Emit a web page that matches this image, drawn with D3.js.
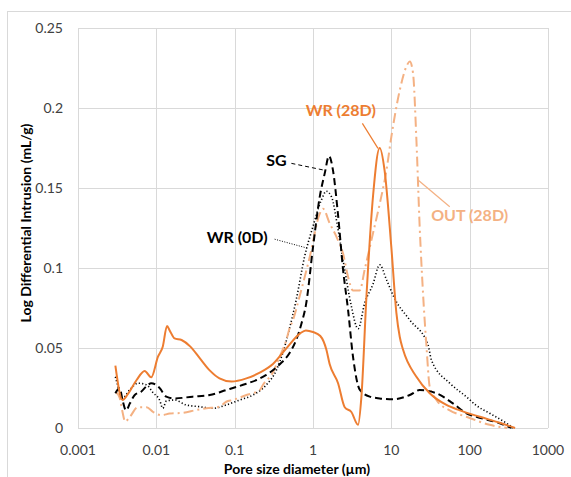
<!DOCTYPE html>
<meta charset="utf-8">
<style>
  body { margin: 0; background: #fff; }
  text { font-family: Lato, "Open Sans", sans-serif; }
</style>
<body>
<script src="https://d3js.org/d3.v7.min.js"></script>
<script>
// pore size (µm) , log differential intrusion (mL/g)
var wr28 = [[0.003,0.039],[0.0037,0.0175],[0.0043,0.021],[0.0056,0.030],[0.0071,0.0356],[0.0086,0.0317],
  [0.0105,0.0446],[0.0121,0.051],[0.0137,0.0638],[0.0148,0.061],[0.0171,0.056],[0.021,0.055],[0.027,0.051],
  [0.036,0.0435],[0.048,0.036],[0.064,0.031],[0.091,0.029],[0.141,0.031],[0.209,0.0346],[0.308,0.040],
  [0.457,0.0498],[0.68,0.059],[0.81,0.061],[1.0,0.060],[1.24,0.0575],[1.48,0.049],[1.63,0.040],[2.09,0.028],
  [2.54,0.013],[3.09,0.010],[3.76,0.002],[4.15,0.0196],[4.81,0.082],[5.84,0.145],[7.1,0.175],[8.2,0.161],
  [10,0.113],[11.6,0.072],[12.8,0.057],[14.1,0.049],[20.9,0.032],[30.9,0.0217],[50.5,0.0144],[75,0.011],
  [135,0.007],[242,0.0033],[380,0]];

var sg = [[0.003,0.0217],[0.0034,0.025],[0.0037,0.0175],[0.0041,0.011],[0.0046,0.0154],[0.0053,0.0206],
  [0.0064,0.0227],[0.0078,0.0269],[0.0086,0.028],[0.011,0.025],[0.0134,0.0196],[0.0171,0.0185],[0.029,0.0196],
  [0.048,0.0206],[0.078,0.0237],[0.128,0.027],[0.19,0.030],[0.25,0.033],[0.38,0.040],[0.50,0.0467],
  [0.61,0.055],[0.71,0.065],[0.82,0.078],[1.0,0.113],[1.22,0.1446],[1.41,0.159],[1.60,0.170],[1.80,0.161],
  [2.08,0.134],[2.42,0.099],[2.80,0.074],[3.24,0.0446],[3.95,0.024],[5.3,0.0196],[7.1,0.0185],[10.5,0.018],
  [17.2,0.0206],[23,0.0237],[37.7,0.0217],[61,0.0154],[91,0.0092],[122,0.007],[242,0.003],[342,0]];

var wr0 = [[0.003,0.032],[0.0032,0.027],[0.0036,0.018],[0.0046,0.024],[0.0058,0.028],[0.0075,0.027],
  [0.0091,0.022],[0.011,0.0175],[0.0121,0.0123],[0.0134,0.0168],[0.0171,0.0175],[0.024,0.0144],[0.036,0.0133],
  [0.053,0.0123],[0.078,0.0144],[0.116,0.0175],[0.171,0.0206],[0.254,0.027],[0.34,0.036],[0.41,0.0467],
  [0.50,0.062],[0.61,0.08],[0.78,0.107],[1.0,0.126],[1.28,0.1425],[1.48,0.148],[1.72,0.1446],[2.09,0.124],
  [2.54,0.099],[3.09,0.076],[3.76,0.062],[4.57,0.078],[5.84,0.090],[7.1,0.102],[8.7,0.0925],[11,0.081],
  [17.2,0.0675],[29.4,0.052],[32.5,0.0425],[55.7,0.028],[91,0.0195],[122,0.014],[180,0.0092],[295,0.003],[360,0]];

var out28 = [[0.003,0.0227],[0.0034,0.019],[0.0037,0.010],[0.0040,0.004],[0.0046,0.007],[0.0058,0.013],
  [0.0075,0.013],[0.0091,0.010],[0.0116,0.008],[0.0148,0.009],[0.022,0.0095],[0.032,0.0112],[0.0435,0.0123],
  [0.064,0.0133],[0.078,0.0164],[0.095,0.0175],[0.141,0.0206],[0.209,0.0237],[0.23,0.027],[0.31,0.035],
  [0.376,0.0446],[0.457,0.055],[0.50,0.062],[0.555,0.0675],[0.68,0.083],[0.91,0.107],[1.22,0.134],[1.34,0.137],
  [1.63,0.128],[1.99,0.1196],[2.42,0.109],[2.8,0.0946],[3.24,0.086],[3.95,0.086],[4.57,0.099],[5.57,0.1175],
  [7.1,0.14],[8.66,0.161],[10,0.182],[12.8,0.211],[15.6,0.226],[17.2,0.229],[18.9,0.222],[20.9,0.18],[23,0.126],
  [25.4,0.084],[28.1,0.051],[30.9,0.0258],[37.7,0.0175],[55.7,0.011],[91,0.007],[180,0.002],[300,0]];

var xTicks = [0.001, 0.01, 0.1, 1, 10, 100, 1000];
var xTickLabels = ["0.001", "0.01", "0.1", "1", "10", "100", "1000"];
var yTicks = [0, 0.05, 0.1, 0.15, 0.2, 0.25];
var yTickLabels = ["0", "0.05", "0.1", "0.15", "0.2", "0.25"];

var W = 571, H = 477;
var x = d3.scaleLog().domain([0.001, 1000]).range([78, 548]);
var y = d3.scaleLinear().domain([0, 0.25]).range([428, 28]);

var svg = d3.select("body").append("svg")
  .attr("width", W).attr("height", H);

// outer chart border
svg.append("rect")
  .attr("x", 7.5).attr("y", 11.5)
  .attr("width", 600).attr("height", 500)
  .attr("fill", "none").attr("stroke", "#d9d9d9");

// grid
svg.append("g").selectAll("line").data(yTicks).enter().append("line")
  .attr("x1", x(0.001)).attr("x2", x(1000))
  .attr("y1", function (d) { return Math.round(y(d)) + 0.5; })
  .attr("y2", function (d) { return Math.round(y(d)) + 0.5; })
  .attr("stroke", "#d9d9d9");
svg.append("g").selectAll("line").data(xTicks).enter().append("line")
  .attr("y1", y(0)).attr("y2", y(0.25))
  .attr("x1", function (d) { return Math.round(x(d)) + 0.5; })
  .attr("x2", function (d) { return Math.round(x(d)) + 0.5; })
  .attr("stroke", "#d9d9d9");

// tick labels
svg.append("g").selectAll("text").data(yTicks).enter().append("text")
  .attr("x", 63).attr("y", function (d) { return y(d) + 5; })
  .attr("text-anchor", "end")
  .attr("font-size", 14).attr("fill", "#404040")
  .text(function (d, i) { return yTickLabels[i]; });
svg.append("g").selectAll("text").data(xTicks).enter().append("text")
  .attr("x", function (d) { return x(d); }).attr("y", 455)
  .attr("text-anchor", "middle")
  .attr("font-size", 14).attr("fill", "#404040")
  .text(function (d, i) { return xTickLabels[i]; });

// axis titles
svg.append("text")
  .attr("x", 297).attr("y", 474)
  .attr("text-anchor", "middle")
  .attr("font-size", 14).attr("font-weight", "bold").attr("fill", "#000")
  .text("Pore size diameter (µm)");
svg.append("text")
  .attr("transform", "translate(31,223) rotate(-90)")
  .attr("text-anchor", "middle")
  .attr("font-size", 14).attr("font-weight", "bold").attr("fill", "#000")
  .text("Log Differential Intrusion (mL/g)");

var line = d3.line()
  .x(function (d) { return x(d[0]); })
  .y(function (d) { return y(d[1]); })
  .curve(d3.curveMonotoneX);

var series = [
  { data: wr0, color: "#000", width: 1.6, dash: "1.2,2.2" },
  { data: out28, color: "#f4b183", width: 2, dash: "10,4,2,4" },
  { data: sg, color: "#000", width: 2, dash: "7,4" },
  { data: wr28, color: "#ed7d31", width: 2, dash: null }
];

svg.append("g").selectAll("path").data(series).enter().append("path")
  .attr("d", function (d) { return line(d.data); })
  .attr("fill", "none")
  .attr("stroke", function (d) { return d.color; })
  .attr("stroke-width", function (d) { return d.width; })
  .attr("stroke-dasharray", function (d) { return d.dash; });

// callouts (label point, leader start, leader end, all in data units)
var callouts = [
  { text: "WR (28D)", color: "#ed7d31", at: [2.26, 0.199], from: [4.27, 0.1904], to: [6.76, 0.1748], dash: null, w: 1.2 },
  { text: "SG", color: "#000", at: [0.341, 0.1675], from: [0.53, 0.1654], to: [1.34, 0.1613], dash: "4,3", w: 1 },
  { text: "WR (0D)", color: "#000", at: [0.1076, 0.1194], from: [0.324, 0.118], to: [0.863, 0.1123], dash: "1,1.5", w: 1 },
  { text: "OUT (28D)", color: "#f4b183", at: [100, 0.133], from: [21.9, 0.155], to: [55.7, 0.1383], dash: null, w: 1.2 }
];

svg.append("g").selectAll("line").data(callouts).enter().append("line")
  .attr("x1", function (d) { return x(d.from[0]); })
  .attr("y1", function (d) { return y(d.from[1]); })
  .attr("x2", function (d) { return x(d.to[0]); })
  .attr("y2", function (d) { return y(d.to[1]); })
  .attr("stroke", function (d) { return d.color; })
  .attr("stroke-width", function (d) { return d.w; })
  .attr("stroke-dasharray", function (d) { return d.dash; });

svg.append("g").selectAll("text").data(callouts).enter().append("text")
  .attr("x", function (d) { return x(d.at[0]); })
  .attr("y", function (d) { return y(d.at[1]) + 6; })
  .attr("text-anchor", "middle")
  .attr("font-size", 16).attr("font-weight", "bold")
  .attr("fill", function (d) { return d.color; })
  .text(function (d) { return d.text; });
</script>
</body>
